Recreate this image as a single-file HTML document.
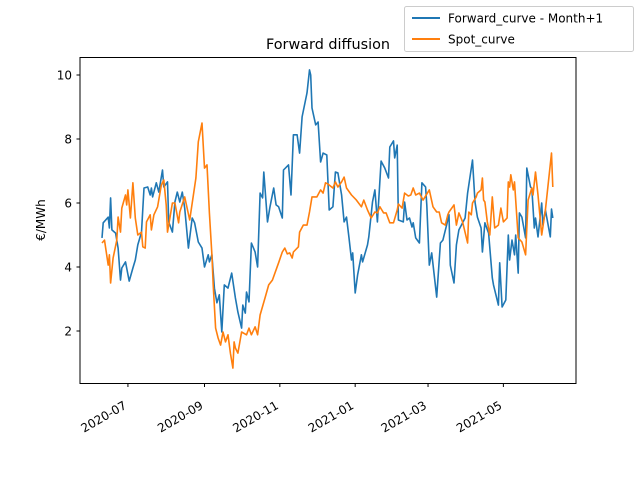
<!DOCTYPE html>
<html><head><meta charset="utf-8"><style>
html,body{margin:0;padding:0;background:#fff;}
svg{display:block;font-family:"DejaVu Sans","Liberation Sans",sans-serif;}
</style></head><body>
<svg id="chart" width="640" height="480" viewBox="0 0 640 480">
<rect x="0" y="0" width="640" height="480" fill="#fff"/>
<text x="328" y="49" font-size="14.4" text-anchor="middle">Forward diffusion</text>
<g id="plot"></g>
<rect x="80" y="57.5" width="496" height="326" fill="none" stroke="#000" stroke-width="1"/>
<text transform="translate(45,220) rotate(-90)" font-size="12" text-anchor="middle">€/MWh</text>
<g>
<rect x="404.5" y="6.5" width="229" height="45" rx="2" fill="#fff" fill-opacity="0.8" stroke="#ccc"/>
<g>
<line x1="412" y1="18" x2="440" y2="18" stroke="#1f77b4" stroke-width="2"/>
<text x="448" y="22.5" font-size="12">Forward_curve - Month+1</text></g>
<g>
<line x1="412" y1="39" x2="440" y2="39" stroke="#ff7f0e" stroke-width="2"/>
<text x="448" y="43.5" font-size="12">Spot_curve</text></g>
</g>
</svg>
<script>
const fwdDays=[0,1,5,6,7,8,11,13,15,16,19,22,25,27,29,32,34,37,39,40,41,44,46,49,50,53,54,57,59,61,63,65,67,70,73,75,78,81,83,86,87,89,91,93,95,97,99,102,105,108,110,113,114,116,117,119,121,124,126,128,130,131,134,136,139,141,143,146,147,151,153,155,158,160,162,166,168,169,170,173,175,177,179,182,184,187,189,191,194,196,198,200,202,203,205,207,210,211,215,216,219,221,223,226,229,232,233,236,237,239,240,244,245,247,249,251,252,254,257,259,262,263,265,267,271,274,276,279,281,282,285,287,289,291,294,296,300,302,304,307,308,310,313,316,317,321,322,324,327,329,330,332,334,335,337,338,340,343,344,347,348,350,351,353,356,357,359,363,364,365];
const fwdValues=[4.91,5.38,5.56,5.22,6.16,5.16,5.06,4.59,3.59,3.97,4.16,3.56,3.97,4.22,4.69,5.09,6.47,6.5,6.25,6.47,6.19,6.63,6.34,7.03,6.5,6.66,5.41,5.09,6.03,6.34,6.03,6.34,5.84,4.59,5.53,5.38,4.78,4.59,4.0,4.38,4.16,4.38,3.34,2.88,3.13,1.97,3.44,3.34,3.81,3.03,2.59,2.09,2.81,2.56,3.22,2.91,4.75,4.47,4.0,6.31,6.16,6.97,5.41,5.88,6.47,5.94,5.88,5.53,7.03,7.19,6.25,8.13,8.13,7.56,8.69,9.44,10.16,10.0,8.97,8.44,8.53,7.28,7.56,7.5,5.78,5.88,6.97,6.94,6.25,5.41,5.56,4.91,4.22,4.44,3.19,3.75,4.38,4.16,4.69,4.94,6.03,6.41,5.41,7.31,7.09,6.78,7.75,7.94,7.41,7.81,5.47,5.41,6.03,5.47,5.53,5.25,5.38,4.91,4.75,6.63,6.5,5.94,4.06,4.44,3.06,4.75,4.84,5.31,5.63,4.06,3.5,4.69,5.16,5.31,5.53,6.31,7.34,6.03,5.56,5.22,4.47,5.38,5.06,3.66,3.44,2.81,4.13,2.75,2.97,5.0,4.22,4.84,4.38,5.0,3.81,5.69,5.56,4.91,7.09,6.5,6.47,5.22,5.53,4.94,6.0,5.31,5.78,4.94,5.81,5.53];
const spotDays=[0,2,5,6,7,9,12,13,15,16,19,20,21,23,25,27,29,32,33,35,36,39,40,42,45,48,50,52,53,55,57,59,62,63,67,71,74,76,78,81,83,85,87,89,90,92,94,96,98,100,102,104,106,107,108,110,113,117,119,121,124,126,128,132,135,138,143,146,148,150,152,154,155,159,160,163,166,168,170,174,177,179,181,183,187,189,191,194,196,198,202,206,210,212,215,218,221,223,225,228,230,233,236,239,240,243,245,248,250,252,254,257,260,265,268,271,273,275,278,280,281,285,287,289,292,296,297,299,300,303,304,307,308,309,310,312,314,316,317,318,321,323,325,328,329,330,331,333,334,337,340,343,345,348,349,351,353,356,359,364,365];
const spotValues=[4.75,4.84,4.06,4.38,3.5,4.28,4.84,5.56,5.09,5.84,6.25,5.94,6.41,5.53,6.63,5.53,5.0,5.09,4.63,4.59,5.41,5.63,5.16,5.63,5.88,6.56,6.72,5.94,5.09,5.53,6.0,6.0,5.38,5.72,6.19,5.47,6.25,6.78,7.91,8.5,7.09,7.19,5.69,4.38,3.44,2.09,1.78,1.56,1.97,1.66,1.88,1.31,0.84,1.66,1.47,1.31,1.97,1.88,2.09,1.88,2.13,1.88,2.5,3.03,3.44,3.59,4.13,4.47,4.59,4.41,4.44,4.28,4.47,4.63,5.09,5.31,5.31,5.72,6.19,6.19,6.41,6.31,6.63,6.59,6.47,6.66,6.5,6.66,6.81,6.47,6.25,6.09,5.88,6.09,5.78,5.53,5.72,5.69,5.88,5.69,5.69,5.38,5.38,5.78,5.97,5.84,6.31,6.22,6.25,6.47,6.25,6.31,6.09,6.41,5.88,5.72,5.72,5.38,5.31,5.63,5.72,5.94,5.31,5.69,5.41,4.75,5.72,5.63,6.0,6.19,6.31,6.41,6.78,6.09,6.03,5.41,5.0,6.19,5.72,5.22,5.31,5.84,5.41,5.53,6.66,6.5,6.88,6.41,6.66,4.91,4.78,4.38,6.09,6.47,6.25,6.97,6.25,5.0,5.78,7.56,6.5];
const xTickDays=[21,83,144,205,264,325];
const xTickLabels=["2020-07","2020-09","2020-11","2021-01","2021-03","2021-05"];
const yTickValues=[2,4,6,8,10];

const NS="http://www.w3.org/2000/svg";
const plot=document.getElementById('plot');
function xScale(d){return 102+d*1.235;}
function yScale(v){return 75+(10-v)*32;}
function mk(tag,attrs){const e=document.createElementNS(NS,tag);for(const k in attrs)e.setAttribute(k,attrs[k]);return e;}

yTickValues.forEach(v=>{
  const y=yScale(v);
  const t=mk('line',{x1:76.5,x2:80,y1:y,y2:y,stroke:'#000'});
  
  
  plot.appendChild(t);
  const l=mk('text',{x:72,y:y+4.5,'font-size':12,'text-anchor':'end'});
  l.textContent=v;
  
  
  plot.appendChild(l);
});
xTickDays.forEach((d,i)=>{
  const x=xScale(d);
  const t=mk('line',{x1:x,x2:x,y1:383.5,y2:387,stroke:'#000'});
  
  
  plot.appendChild(t);
  const l=mk('text',{transform:`translate(${x-5},${400}) rotate(-30)`,'font-size':12,'text-anchor':'end',y:9});
  l.textContent=xTickLabels[i];
  
  
  plot.appendChild(l);
});
function line(days,vals,color,name){
  const pts=days.map((d,i)=>xScale(d).toFixed(1)+','+yScale(vals[i]).toFixed(1)).join(' ');
  const p=mk('polyline',{points:pts,fill:'none',stroke:color,'stroke-width':1.6,'stroke-linejoin':'round'});
  
  
  plot.appendChild(p);
}
line(fwdDays,fwdValues,'#1f77b4','forward-curve-line');
line(spotDays,spotValues,'#ff7f0e','spot-curve-line');
</script>
</body></html>
